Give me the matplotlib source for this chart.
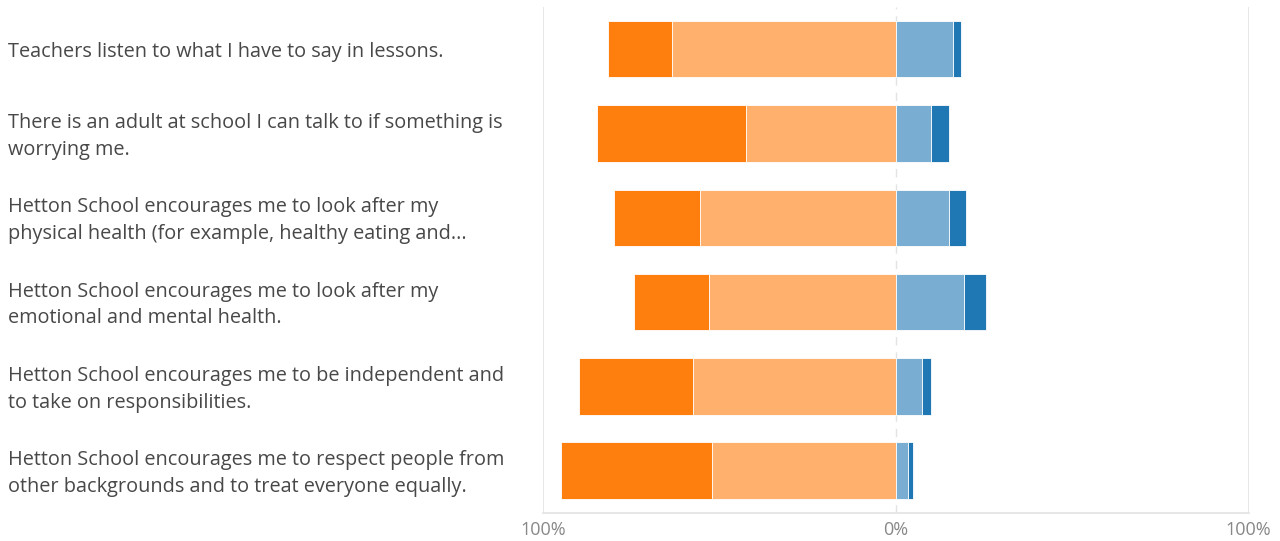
import matplotlib.pyplot as plt
import matplotlib.transforms as mtransforms
import numpy as np

# Survey statements (top to bottom)
questions = [
    "Teachers listen to what I have to say in lessons.",
    "There is an adult at school I can talk to if something is\nworrying me.",
    "Hetton School encourages me to look after my\nphysical health (for example, healthy eating and...",
    "Hetton School encourages me to look after my\nemotional and mental health.",
    "Hetton School encourages me to be independent and\nto take on responsibilities.",
    "Hetton School encourages me to respect people from\nother backgrounds and to treat everyone equally.",
]

# Percentages
strongly_agree = [18.1, 42.4, 24.4, 21.4, 32.4, 42.9]
agree = [63.5, 42.5, 55.5, 53.0, 57.5, 52.1]
disagree = [16.3, 9.8, 14.9, 19.4, 7.4, 3.4]
strongly_disagree = [2.1, 5.1, 4.9, 6.0, 2.4, 1.5]

tick_values = [-100, 0, 100]
tick_labels = ["100%", "0%", "100%"]

dark_orange = "#ff7f0e"
light_orange = "#ffb06c"
light_blue = "#7aadd2"
dark_blue = "#1f77b4"

fig = plt.figure(figsize=(12.8, 5.41), dpi=100)
ax = fig.add_axes([0.4246, 0.052, 0.5508, 0.935])

y = np.arange(len(questions))
sa = np.array(strongly_agree)
a = np.array(agree)
d = np.array(disagree)
sd = np.array(strongly_disagree)
h = 0.67

# agree side goes left of zero
ax.barh(y, -a, height=h, color=light_orange, edgecolor="white", linewidth=0.6)
ax.barh(y, -sa, left=-a, height=h, color=dark_orange, edgecolor="white", linewidth=0.6)
# disagree side
ax.barh(y, d, height=h, color=light_blue, edgecolor="white", linewidth=0.6)
ax.barh(y, sd, left=d, height=h, color=dark_blue, edgecolor="white", linewidth=0.6)

ax.set_xlim(-100, 100)
ax.set_ylim(len(questions) - 0.5, -0.5)

ax.axvline(-100, color="#e3e3e3", lw=1.2, zorder=0)
ax.axvline(100, color="#e3e3e3", lw=1.2, zorder=0)
ax.axvline(0, color="#e3e3e3", lw=1.0, ls=(0, (6, 5)), zorder=0)

for s in ["top", "left", "right"]:
    ax.spines[s].set_visible(False)
ax.spines["bottom"].set_color("#e3e3e3")
ax.spines["bottom"].set_linewidth(1.2)

ax.set_xticks(tick_values)
ax.set_xticklabels(tick_labels, fontsize=13, color="#888888", family="Open Sans")
ax.tick_params(axis="x", length=0, pad=6)
ax.set_yticks([])

# labels sit a few pixels below the bar centre in the original
trans = mtransforms.blended_transform_factory(fig.transFigure, ax.transData)
trans = trans + mtransforms.ScaledTranslation(0, -3 / 100, fig.dpi_scale_trans)
for yi, q in zip(y, questions):
    ax.text(8 / 1280, yi, q, transform=trans, ha="left", va="center",
            fontsize=14.3, color="#484848", family="Open Sans", linespacing=1.45)

fig.savefig("out.png", dpi=100)
